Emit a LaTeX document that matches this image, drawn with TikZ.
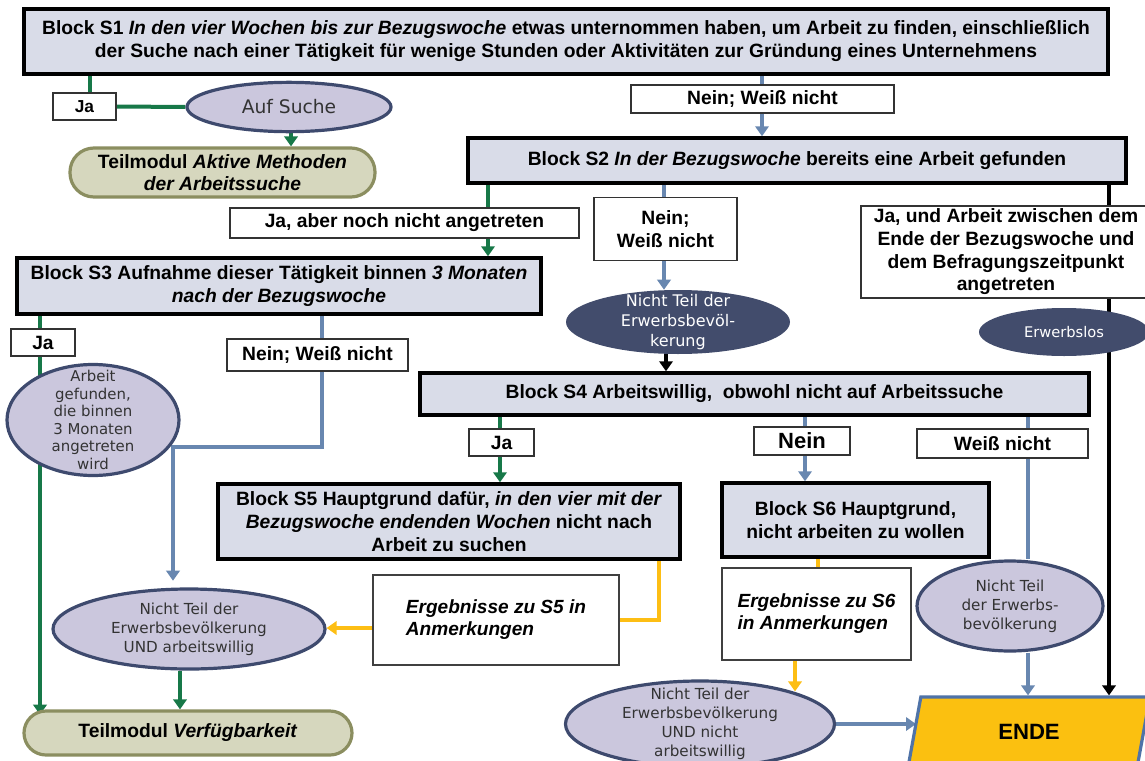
\documentclass[tikz,border=0pt]{standalone}
\usepackage{fontspec}
\setmainfont{Liberation Sans}
\newfontfamily\ellf{DejaVu Sans}
\usetikzlibrary{arrows.meta,shapes.geometric,backgrounds}
\definecolor{blockfill}{HTML}{D9DCE8}
\definecolor{ellfill}{HTML}{CBC7DD}
\definecolor{ellborder}{HTML}{3E4A6E}
\definecolor{darkell}{HTML}{424C6C}
\definecolor{tmfill}{HTML}{D6D7BE}
\definecolor{tmborder}{HTML}{8B8E60}
\definecolor{lgreen}{HTML}{177848}
\definecolor{lblue}{HTML}{6887B0}
\definecolor{lyellow}{HTML}{FDBE14}
\definecolor{endefill}{HTML}{FBC010}
\definecolor{endeborder}{HTML}{4F73A8}
\begin{document}
\begin{tikzpicture}[x=0.75pt,y=-0.75pt,
 block/.style={draw=black, line width=2.6pt, fill=blockfill, font=\bfseries\fontsize{14.45}{17.25}\selectfont, align=center, inner sep=0pt},
 lbl/.style={draw=black!80, line width=0.9pt, fill=white, font=\bfseries\fontsize{14.45}{17}\selectfont, align=center, inner sep=0pt},
 ell/.style={ellipse, draw=ellborder, line width=2.4pt, fill=ellfill, inner sep=0pt},
 dell/.style={ellipse, fill=darkell, inner sep=0pt},
 etxt/.style={font=\ellf\fontsize{11.4}{14.25}\selectfont, align=center, inner sep=0pt, text=black!80},
 dtxt/.style={font=\ellf\fontsize{12}{15}\selectfont, align=center, inner sep=0pt, text=white},
 tmod/.style={draw=tmborder, line width=2.4pt, fill=tmfill, font=\bfseries\fontsize{14.45}{16.5}\selectfont, align=center, inner sep=0pt},
 erg/.style={draw=black!75, line width=0.9pt, fill=white, font=\bfseries\itshape\fontsize{14.3}{16.5}\selectfont, align=left, inner sep=0pt},
 gline/.style={draw=lgreen, line width=3pt},
 bline/.style={draw=lblue, line width=3pt},
 kline/.style={draw=black, line width=3.2pt},
 yline/.style={draw=lyellow, line width=3pt},
 arr/.style={-{Triangle[width=10pt,length=7.5pt]}},
]
\useasboundingbox (0,0) rectangle (1145,760);

% column coordinates for connectors
\coordinate (xg1) at (90,0);
\coordinate (xg0) at (291,0);
\coordinate (xb1) at (762,0);
\coordinate (xg2) at (488,0);
\coordinate (xb2) at (664,0);
\coordinate (xk1) at (666,0);
\coordinate (xk2) at (1109,0);
\coordinate (xg3) at (40,0);
\coordinate (xb3) at (322,0);
\coordinate (turn) at (173,447);
\coordinate (xg5) at (180,0);
\coordinate (xg4) at (500,0);
\coordinate (xb4) at (805,0);
\coordinate (xw4) at (1028,0);
\coordinate (xy5) at (659,0);
\coordinate (xy6) at (818,0);
\coordinate (xy6b) at (795,0);
\coordinate (xel) at (916,0);

% nodes
\node[block, minimum width=813pt, minimum height=48.75pt] (s1) at (566,41.5) {Block S1 \textit{In den vier Wochen bis zur Bezugswoche} etwas unternommen haben, um Arbeit zu finden, einschließlich\\der Suche nach einer Tätigkeit für wenige Stunden oder Aktivitäten zur Gründung eines Unternehmens};
\node[lbl, font=\bfseries\fontsize{13}{15}\selectfont, minimum width=47.25pt, minimum height=20.25pt] (ja1) at (84.5,106.5) {Ja};
\node[ell, minimum width=153pt, minimum height=37pt, label={[etxt, font=\ellf\fontsize{14}{16}\selectfont]center:Auf Suche}] (auf) at (289,107) {};
\node[tmod, rounded corners=18pt, minimum width=228.75pt, minimum height=36.75pt] (tm1) at (222.5,172.5) {Teilmodul \textit{Aktive Methoden}\\\textit{der Arbeitssuche}};
\node[lbl, minimum width=197.25pt, minimum height=21pt] (nw1) at (762.5,99) {Nein; Weiß nicht};
\node[block, minimum width=493.5pt, minimum height=33.75pt] (s2) at (797,160.5) {Block S2 \textit{In der Bezugswoche} bereits eine Arbeit gefunden};
\node[lbl, minimum width=261.75pt, minimum height=22.5pt] (jaab) at (404.5,223) {Ja, aber noch nicht angetreten};
\node[lbl, minimum width=107.25pt, minimum height=47.25pt] (nw2) at (665.5,229) {Nein;\\Weiß nicht};
\node[dell, minimum width=168pt, minimum height=48pt, label={[dtxt]center:{Nicht Teil der\\Erwerbsbevöl-\\kerung}}] (nt1) at (678,322) {};
\node[lbl, minimum width=217.5pt, minimum height=69pt] (jaund) at (1006,252) {Ja, und Arbeit zwischen dem\\Ende der Bezugswoche und\\dem Befragungszeitpunkt\\angetreten};
\node[dell, minimum width=127.5pt, minimum height=36pt, label={[dtxt, font=\ellf\fontsize{11}{13}\selectfont]center:Erwerbslos}] (erwl) at (1064,332) {};
\node[block, minimum width=393pt, minimum height=42pt] (s3) at (279,286) {Block S3 Aufnahme dieser Tätigkeit binnen \textit{3 Monaten}\\\textit{nach der Bezugswoche}};
\node[lbl, minimum width=48pt, minimum height=20.25pt] (ja3) at (43,342.5) {Ja};
\node[lbl, minimum width=135.75pt, minimum height=24pt] (nw3) at (317.5,355) {Nein; Weiß nicht};
\node[ell, minimum width=129pt, minimum height=83.25pt, label={[etxt, font=\ellf\fontsize{11.2}{13.1}\selectfont]center:{Arbeit\\gefunden,\\die binnen\\3 Monaten\\angetreten\\wird}}] (arb) at (93,420) {};
\node[ell, minimum width=204pt, minimum height=60pt, label={[etxt]center:{Nicht Teil der\\Erwerbsbevölkerung\\UND arbeitswillig}}] (will) at (189,629) {};
\node[tmod, rounded corners=16.5pt, minimum width=246pt, minimum height=33pt] (tm2) at (188,733) {Teilmodul \textit{Verfügbarkeit}};
\node[block, minimum width=501.75pt, minimum height=31.5pt] (s4) at (754.5,394) {Block S4 Arbeitswillig,\ \ obwohl nicht auf Arbeitssuche};
\node[lbl, minimum width=48.75pt, minimum height=20.25pt] (ja4) at (501.5,442.5) {Ja};
\node[lbl, font=\bfseries\fontsize{16.5}{18}\selectfont, minimum width=72pt, minimum height=21pt] (nein4) at (802,441) {Nein};
\node[lbl, minimum width=128.25pt, minimum height=21.75pt] (wn4) at (1002.5,443.5) {Weiß nicht};
\node[block, minimum width=346.5pt, minimum height=56.25pt] (s5) at (449,521.5) {Block S5 Hauptgrund dafür, \textit{in den vier mit der}\\\textit{Bezugswoche endenden Wochen} nicht nach\\Arbeit zu suchen};
\node[erg, minimum width=184.5pt, minimum height=67.5pt] (erg5) at (496,620) {Ergebnisse zu S5 in\\Anmerkungen};
\node[block, minimum width=200.25pt, minimum height=55.5pt] (s6) at (855.5,520) {Block S6 Hauptgrund,\\nicht arbeiten zu wollen};
\node[erg, minimum width=141.75pt, minimum height=69pt] (erg6) at (816.5,614) {Ergebnisse zu S6\\in Anmerkungen};
\node[ell, minimum width=201.75pt, minimum height=64.5pt, label={[etxt]center:{Nicht Teil der\\Erwerbsbevölkerung\\UND nicht\\arbeitswillig}}] (unw) at (700,724) {};
\node[ell, minimum width=139.5pt, minimum height=67.5pt, label={[etxt]center:{Nicht Teil\\der Erwerbs-\\bevölkerung}}] (rell) at (1010,606) {};
\node[trapezium, trapezium left angle=76.6, trapezium right angle=103.4, trapezium stretches=true, draw=endeborder, line width=2.4pt, fill=endefill, minimum width=182.25pt, minimum height=52.5pt, inner sep=0pt, font=\bfseries\fontsize{16.6}{18}\selectfont] (ende) at (1029,732) {ENDE};

% connectors
\begin{pgfonlayer}{background}
\draw[gline] (s1.south -| xg1) -- (ja1.north -| xg1);
\draw[gline] (ja1.east) -- (auf.west);
\draw[gline,arr] (auf.south -| xg0) -- (tm1.north -| xg0);
\draw[bline,arr] (s1.south -| xb1) -- (s2.north -| xb1);
\draw[gline,arr] (s2.south -| xg2) -- (s3.north -| xg2);
\draw[bline,arr] (s2.south -| xb2) -- (nt1.north -| xb2);
\draw[kline,arr] (nt1.south -| xk1) -- (s4.north -| xk1);
\draw[kline,arr] (s2.south -| xk2) -- (ende.north -| xk2);
\draw[gline,arr,shorten >=-4pt] (s3.south -| xg3) -- (tm2.north -| xg3);
\draw[bline,arr,shorten >=5pt] (s3.south -| xb3) |- (turn) -- (turn |- will.north);
\draw[gline,arr] (will.south -| xg5) -- (tm2.north -| xg5);
\draw[yline,arr] ([yshift=-6pt]erg5.west) -- ([yshift=-6pt]erg5.west -| will.east);
\draw[yline] (s5.south -| xy5) |- (erg5.east);
\draw[gline,arr] (s4.south -| xg4) -- (s5.north -| xg4);
\draw[bline,arr] (s4.south -| xb4) -- (s6.north -| xb4);
\draw[bline] (s4.south -| xw4) -- (rell.north -| xw4);
\draw[bline,arr] (rell.south -| xw4) -- (ende.north -| xw4);
\draw[yline] (s6.south -| xy6) -- (erg6.north -| xy6);
\draw[yline,arr,shorten >=-9pt] (erg6.south -| xy6b) -- (unw.north -| xy6b);
\draw[bline,arr] (unw.east) -- (unw.east -| xel);
\end{pgfonlayer}
\end{tikzpicture}
\end{document}
